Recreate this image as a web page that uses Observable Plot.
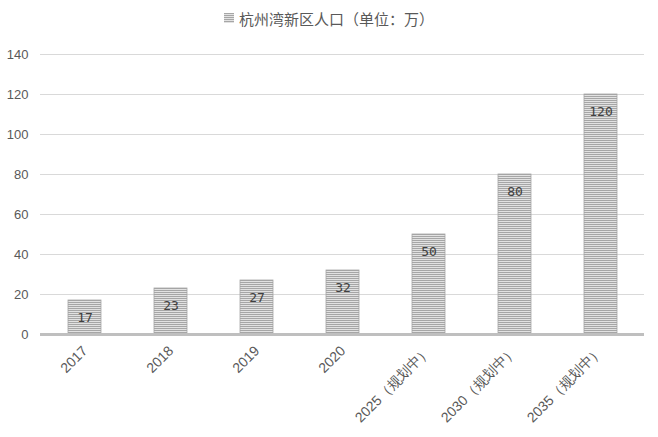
<!DOCTYPE html>
<html>
<head>
<meta charset="utf-8">
<script src="https://cdn.jsdelivr.net/npm/d3@7"></script>
<script src="https://cdn.jsdelivr.net/npm/@observablehq/plot@0.6"></script>
<style>
  body { margin: 0; background: #fff; }
  #legend { height: 36px; display: flex; align-items: center; justify-content: center; font-family: "Noto Sans CJK SC", sans-serif; font-size: 15px; color: #595959; }
  #legend svg { margin-right: 5px; }
</style>
</head>
<body>
<div id="legend"><svg width="10" height="10"><defs><pattern id="lstripes" width="4" height="2" patternUnits="userSpaceOnUse"><rect width="4" height="2" fill="#e2e2e2"/><rect width="4" height="1" fill="#a6a6a6"/></pattern></defs><rect width="10" height="10" fill="url(#lstripes)"/></svg><span>杭州湾新区人口（单位：万）</span></div>
<div id="chart"></div>
<script>
const categories = ["2017", "2018", "2019", "2020", "2025（规划中）", "2030（规划中）", "2035（规划中）"];
const values = [17, 23, 27, 32, 50, 80, 120];
const yTicks = [0, 20, 40, 60, 80, 100, 120, 140];

const data = categories.map((c, i) => ({category: c, value: values[i]}));

const chart = Plot.plot({
  width: 658,
  height: 401,
  marginTop: 18,
  marginBottom: 103,
  marginLeft: 40,
  marginRight: 14,
  style: {fontFamily: "'Liberation Sans', sans-serif", fontSize: "13px", color: "#595959", background: "#fff"},
  x: {domain: categories, paddingInner: 0.62, paddingOuter: 0.31, label: null, tickSize: 0, tickPadding: 14, tickRotate: -45},
  y: {domain: [0, 140], ticks: yTicks, label: null, tickSize: 0, tickPadding: 12},
  marks: [
    Plot.ruleY(yTicks.filter(d => d > 0), {stroke: "#d9d9d9", strokeWidth: 1}),
    Plot.barY(data, {x: "category", y: "value", fill: "url(#stripes)", stroke: "#a6a6a6", strokeWidth: 0.8}),
    Plot.ruleY([0], {stroke: "#bfbfbf", strokeWidth: 3}),
    Plot.text(data, {x: "category", y: "value", text: d => String(d.value), dy: 17, fill: "#404040", fontFamily: "'DejaVu Sans Mono', monospace", fontSize: 13})
  ]
});

d3.select(chart).insert("defs", ":first-child").html(
  '<pattern id="stripes" width="4" height="2" patternUnits="userSpaceOnUse"><rect width="4" height="2" fill="#e2e2e2"/><rect width="4" height="1" fill="#a6a6a6"/></pattern>'
);
d3.select(chart).selectAll("[aria-label='x-axis tick label'] text, [aria-label='x-axis'] text").style("font-size", "14px");

document.getElementById("chart").appendChild(chart);
</script>
</body>
</html>
